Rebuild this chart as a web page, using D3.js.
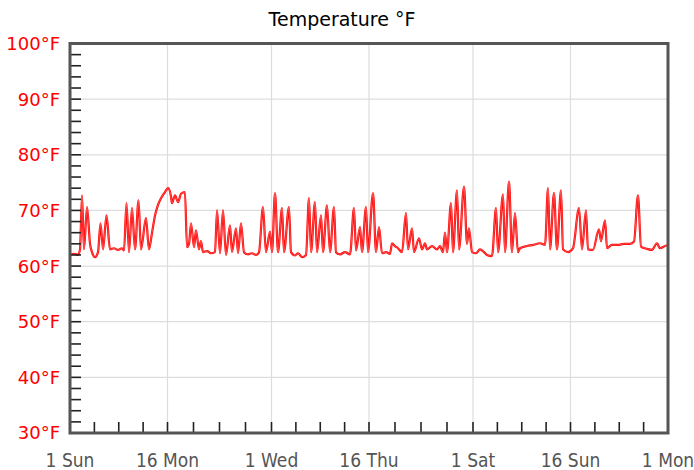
<!DOCTYPE html>
<html>
<head>
<meta charset="utf-8">
<script src="https://cdn.jsdelivr.net/npm/d3@7"></script>
<style>
  html, body { margin: 0; padding: 0; background: #fff; }
  svg { display: block; }
  text { font-family: "DejaVu Sans Condensed", "DejaVu Sans", sans-serif; }
</style>
</head>
<body>
<svg id="chart" width="694" height="470"></svg>
<script>
// ---- Data ----
const chartTitle = "Temperature \u00B0F";
const startDate = "2018-07-01";
const endDate = "2018-10-01";
// days since start of period
const dayOffsets = [0,0.62,1.23,1.54,1.85,2.15,2.62,3.08,3.38,3.85,4.31,4.69,5.08,5.62,6.15,6.77,7.38,8.0,8.31,8.69,9.08,9.54,10.0,10.54,10.92,11.69,12.15,12.62,13.08,13.54,14.0,14.62,15.08,15.54,15.69,16.15,16.62,17.08,17.69,18.0,18.31,18.62,19.08,19.38,19.85,20.15,20.46,21.08,21.69,22.31,22.62,23.08,23.54,24.0,24.62,24.92,25.54,25.85,26.31,26.77,27.38,28.0,28.62,29.08,29.69,30.15,30.77,31.08,31.54,32.0,32.62,32.92,33.69,34.0,34.62,35.08,35.69,36.31,36.77,37.08,37.69,38.0,38.62,38.92,39.54,40.0,40.62,40.92,41.54,42.31,43.08,43.69,44.0,44.62,44.92,45.54,45.85,46.62,47.08,47.54,48.0,48.62,49.23,49.54,50.0,50.46,51.08,51.69,52.0,52.62,52.92,53.69,54.15,54.62,54.92,55.69,56.46,56.92,57.38,57.69,58.0,58.62,58.92,59.54,59.85,60.62,61.08,61.38,61.85,62.46,63.08,63.69,64.15,64.92,65.54,65.85,66.62,66.92,67.54,68.0,68.46,68.92,69.23,70.31,71.23,72.31,73.08,73.54,73.85,74.46,74.92,75.54,75.85,76.62,77.38,78.31,78.77,79.38,79.69,80.46,81.38,81.69,82.31,82.62,83.38,84.31,85.23,86.15,86.77,87.38,87.85,88.77,89.54,90.31,90.77,91.54,92.0];
const temperatures = [62.0,62.2,62.0,63,72.7,63,70.6,64,62.5,61.6,62.5,67.7,63,69.1,63,63.2,62.9,63.2,62.8,71.3,62.5,70.4,63,71.8,63,68.6,63,66,69.1,71,72.2,73.3,74,72.5,71.3,72.7,71.5,73,73.3,63.4,64,67.7,63.4,66.4,63,64.5,62.5,62.7,62.3,62.5,70,62.3,70,62,67.3,62.5,66.8,62.3,67.7,62.5,62.1,62.3,62,62.5,70.6,62.5,66.2,62.5,73.1,62.5,70.4,62.5,70.6,62.5,61.9,62.3,61.6,62,72.2,62.5,71.5,62.5,69.1,62.5,70.9,62.5,70.6,62.5,62.1,62.5,62.1,70.4,62.8,67,62.5,70.6,62.5,73.1,62.5,67,62.3,62.5,62.2,64.1,63.6,63.2,62.5,69.5,63,66.8,62.5,65,63,64.1,63,63.6,63,63.6,62.5,66,62.5,71.3,62.5,73.6,63,74.3,64,66.8,62.5,62.3,63,62.5,62,61.8,70.4,62.5,72.9,62.5,75.2,62.5,69.5,62.5,63.2,63.6,63.8,64.1,63.8,74,63,73.1,63,73.6,63,62.5,63.2,70.4,63,70,63,62.9,66.6,64.5,68.2,63.2,63.8,63.8,64,64,64.4,72.7,63.5,63.1,62.9,64.1,63.2,63.6,63.8];
const yMajorTicks = [30,40,50,60,70,80,90,100];
const yMinorStep = 2;
const xMajorTickDates = ["2018-07-01","2018-07-16","2018-08-01","2018-08-16","2018-09-01","2018-09-16","2018-10-01"];
const xMinorPerInterval = 4;

// ---- Layout ----
const svg = d3.select("#chart");
const L = 70, R = 668, T = 43.5, B = 433;
const parse = d3.utcParse("%Y-%m-%d");
const t0 = parse(startDate), t1 = parse(endDate);
const DAY = 86400000;

const x = d3.scaleUtc().domain([t0, t1]).range([L, R]);
const y = d3.scaleLinear().domain([30, 100]).range([B, T]);

const majorDates = xMajorTickDates.map(parse);
const fmt = d3.utcFormat("%-d %a");

// gridlines
const grid = svg.append("g").attr("stroke", "#dddddd").attr("stroke-width", 1.2);
yMajorTicks.filter(v => v > 30 && v < 100).forEach(v => {
  grid.append("line").attr("x1", L).attr("x2", R).attr("y1", y(v)).attr("y2", y(v));
});
majorDates.slice(1, -1).forEach(d => {
  grid.append("line").attr("x1", x(d)).attr("x2", x(d)).attr("y1", T).attr("y2", B);
});

// line
const data = dayOffsets.map((d, i) => ({ t: new Date(t0.getTime() + d * DAY), v: temperatures[i] }));
const line = d3.line().x(d => x(d.t)).y(d => y(d.v)).curve(d3.curveMonotoneX);
svg.append("path").datum(data)
  .attr("fill", "none").attr("stroke", "#ff0000").attr("stroke-width", 2.2)
  .attr("stroke-linejoin", "round").attr("d", line);
svg.append("path").datum(data)
  .attr("fill", "none").attr("stroke", "#ff8c8c").attr("stroke-width", 0.7)
  .attr("stroke-opacity", 0.8)
  .attr("stroke-linejoin", "round").attr("d", line);

// y minor ticks
const yTicks = d3.range(30, 100.001, yMinorStep);
const tk = svg.append("g").attr("stroke", "#222").attr("stroke-width", 1.6);
yTicks.forEach(v => {
  tk.append("line").attr("x1", L).attr("x2", L + 11).attr("y1", y(v)).attr("y2", y(v));
});
// x ticks (major + minor)
for (let i = 0; i < majorDates.length - 1; i++) {
  const a = majorDates[i].getTime(), b = majorDates[i + 1].getTime();
  for (let k = 0; k < xMinorPerInterval; k++) {
    const d = new Date(a + (b - a) * k / xMinorPerInterval);
    tk.append("line").attr("x1", x(d)).attr("x2", x(d)).attr("y1", B).attr("y2", B - 11);
  }
}

// frame
svg.append("rect").attr("x", L).attr("y", T).attr("width", R - L).attr("height", B - T)
  .attr("fill", "none").attr("stroke", "#555").attr("stroke-width", 3);

// y labels
svg.append("g").selectAll("text").data(yMajorTicks).join("text")
  .attr("x", L - 10).attr("y", d => y(d)).attr("dy", "0.36em")
  .attr("text-anchor", "end").attr("fill", "#ff0000").attr("font-size", 18)
  .style("font-family", "'DejaVu Sans', sans-serif")
  .text(d => d + "\u00B0F");

// x labels
svg.append("g").selectAll("text").data(majorDates).join("text")
  .attr("x", d => x(d)).attr("y", 467)
  .attr("text-anchor", "middle").attr("fill", "#555").attr("font-size", 19)
  .text(d => fmt(d));

// title
svg.append("text").attr("x", 342).attr("y", 26).attr("text-anchor", "middle")
  .attr("fill", "#000").attr("font-size", 19)
  .style("font-family", "'DejaVu Sans', sans-serif")
  .text(chartTitle);
</script>
</body>
</html>
